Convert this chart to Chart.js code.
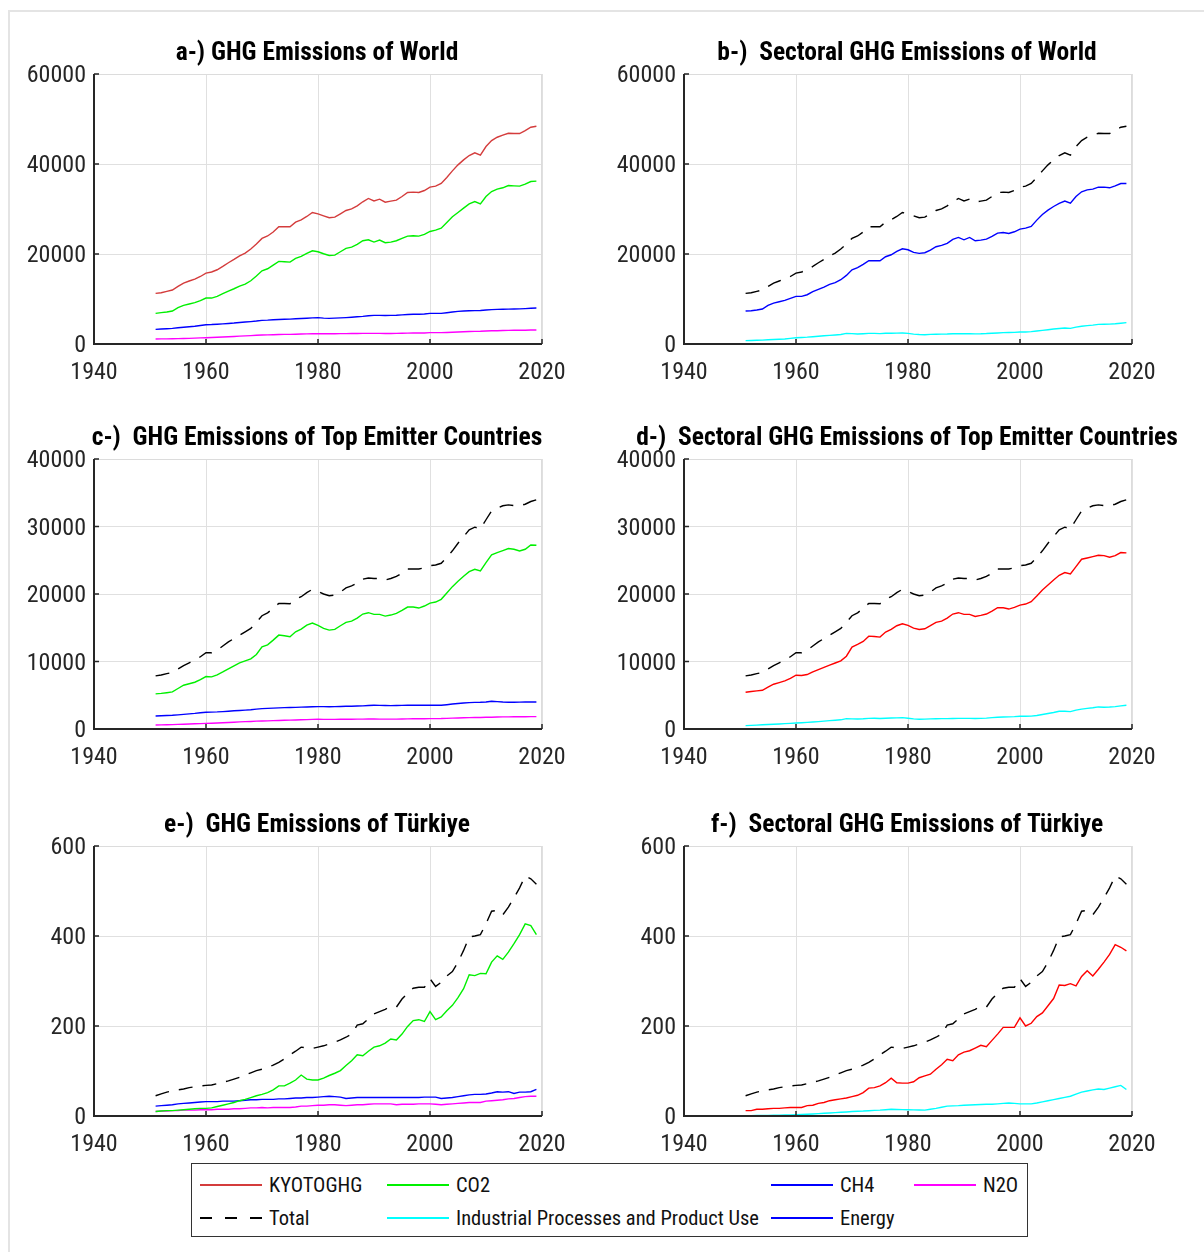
<!DOCTYPE html>
<html>
<head>
<meta charset="utf-8">
<title>GHG Emissions</title>
<script src="https://cdn.jsdelivr.net/npm/chart.js@4.4.0/dist/chart.umd.min.js"></script>
<style>
body { margin: 0; background: #fff; width: 1204px; height: 1252px; position: relative; overflow: hidden;
       font-family: 'Liberation Sans Narrow', 'Roboto Condensed', 'Arial Narrow', sans-serif; }
.frame { position: absolute; left: 8px; top: 10px; right: 0; bottom: 0; border-left: 2px solid #e4e4e4; border-top: 2px solid #e4e4e4; }
canvas { position: absolute; }
#legend { position: absolute; left: 191px; top: 1163px; width: 837px; height: 74px; box-sizing: border-box;
          border: 1px solid #333; background: #fff; }
.item { position: absolute; height: 26px; display: flex; align-items: center; font-size: 20.5px; color: #111; white-space: nowrap; }
.sample { width: 62px; height: 1.3px; margin-right: 7px; }
</style>
</head>
<body>
<div class="frame"></div>
<canvas id="a" width="600" height="380" style="left:0;top:20px"></canvas>
<canvas id="b" width="604" height="380" style="left:600px;top:20px"></canvas>
<canvas id="c" width="600" height="380" style="left:0;top:405px"></canvas>
<canvas id="d" width="604" height="380" style="left:600px;top:405px"></canvas>
<canvas id="e" width="600" height="380" style="left:0;top:792px"></canvas>
<canvas id="f" width="604" height="380" style="left:600px;top:792px"></canvas>
<div id="legend"></div>
<script>
var years = [1951, 1952, 1953, 1954, 1955, 1956, 1957, 1958, 1959, 1960,
    1961, 1962, 1963, 1964, 1965, 1966, 1967, 1968, 1969, 1970,
    1971, 1972, 1973, 1974, 1975, 1976, 1977, 1978, 1979, 1980,
    1981, 1982, 1983, 1984, 1985, 1986, 1987, 1988, 1989, 1990,
    1991, 1992, 1993, 1994, 1995, 1996, 1997, 1998, 1999, 2000,
    2001, 2002, 2003, 2004, 2005, 2006, 2007, 2008, 2009, 2010,
    2011, 2012, 2013, 2014, 2015, 2016, 2017, 2018, 2019];

var xTicks = [1940, 1960, 1980, 2000, 2020];

// World
var worldKyoto = [11250, 11400, 11700, 12000, 12800, 13540, 14000, 14430, 15000, 15760,
    16000, 16500, 17240, 18060, 18800, 19600, 20200, 21100, 22200, 23460,
    24000, 24900, 26050, 26050, 26050, 27080, 27600, 28340, 29230, 28930,
    28490, 28050, 28200, 28930, 29670, 30040, 30700, 31600, 32340, 31800,
    32190, 31520, 31750, 31970, 32780, 33670, 33740, 33670, 34110, 34850,
    35070, 35670, 37000, 38480, 39810, 40920, 41880, 42470, 41960, 43880,
    45210, 45950, 46400, 46840, 46770, 46770, 47430, 48170, 48400];
var worldTotal = worldKyoto;
var worldCO2 = [6800, 6960, 7100, 7330, 8070, 8580, 8880, 9180, 9620, 10210,
    10210, 10580, 11170, 11770, 12280, 12880, 13320, 14060, 15100, 16280,
    16720, 17540, 18350, 18280, 18200, 19020, 19460, 20130, 20720, 20500,
    20050, 19680, 19760, 20500, 21240, 21530, 22130, 22940, 23160, 22640,
    23090, 22500, 22640, 22940, 23460, 23980, 24050, 23980, 24350, 25010,
    25310, 25750, 27010, 28270, 29230, 30190, 31150, 31670, 31150, 32780,
    33890, 34410, 34710, 35220, 35150, 35080, 35520, 36110, 36190];
var worldCH4 = [3260, 3330, 3400, 3480, 3600, 3720, 3830, 3930, 4100, 4290,
    4330, 4400, 4480, 4570, 4660, 4780, 4880, 4980, 5100, 5250,
    5300, 5380, 5460, 5500, 5530, 5600, 5660, 5720, 5800, 5850,
    5760, 5700, 5740, 5800, 5870, 5950, 6050, 6150, 6280, 6360,
    6360, 6350, 6370, 6400, 6480, 6560, 6600, 6620, 6680, 6800,
    6800, 6800, 6950, 7100, 7250, 7320, 7380, 7420, 7450, 7550,
    7650, 7700, 7720, 7750, 7770, 7800, 7860, 7930, 7990];
var worldN2O = [1110, 1130, 1150, 1170, 1200, 1230, 1260, 1300, 1350, 1400,
    1440, 1500, 1560, 1620, 1680, 1740, 1800, 1860, 1930, 2000,
    2030, 2070, 2110, 2130, 2150, 2180, 2210, 2240, 2280, 2290,
    2280, 2270, 2280, 2300, 2310, 2320, 2330, 2350, 2370, 2370,
    2360, 2340, 2340, 2360, 2390, 2420, 2440, 2440, 2460, 2520,
    2520, 2530, 2570, 2620, 2680, 2720, 2770, 2810, 2830, 2890,
    2930, 2960, 2990, 3020, 3040, 3050, 3070, 3100, 3110];
var worldEnergy = [7330, 7400, 7550, 7770, 8580, 9100, 9400, 9690, 10140, 10580,
    10580, 10950, 11620, 12140, 12650, 13250, 13620, 14280, 15240, 16500,
    16950, 17690, 18500, 18500, 18500, 19390, 19830, 20570, 21160, 20940,
    20350, 20130, 20280, 20870, 21610, 21900, 22350, 23240, 23680, 23160,
    23680, 22940, 23090, 23310, 23900, 24640, 24790, 24570, 24940, 25530,
    25750, 26120, 27530, 28790, 29750, 30560, 31230, 31750, 31300, 32780,
    33820, 34260, 34410, 34850, 34850, 34710, 35150, 35670, 35670];
var worldIPPU = [740, 780, 820, 860, 930, 1000, 1060, 1120, 1260, 1400,
    1450, 1520, 1620, 1720, 1820, 1920, 2010, 2120, 2370, 2300,
    2220, 2280, 2350, 2370, 2300, 2380, 2400, 2420, 2440, 2350,
    2200, 2100, 2070, 2150, 2180, 2200, 2220, 2270, 2300, 2290,
    2280, 2260, 2270, 2320, 2400, 2460, 2520, 2550, 2580, 2660,
    2680, 2740, 2880, 3030, 3180, 3320, 3450, 3550, 3480, 3750,
    3950, 4080, 4200, 4370, 4400, 4420, 4500, 4620, 4740];

// Top emitter countries
var topTotal = [7870, 8000, 8200, 8370, 8900, 9400, 9800, 10200, 10700, 11290,
    11300, 11680, 12300, 12900, 13400, 13900, 14400, 14900, 15800, 16780,
    17200, 17900, 18610, 18600, 18560, 19200, 19600, 20200, 20690, 20400,
    20000, 19750, 19850, 20300, 20900, 21200, 21600, 22200, 22370, 22300,
    22300, 22080, 22300, 22600, 23100, 23710, 23700, 23700, 23900, 24210,
    24300, 24550, 25400, 26400, 27520, 28500, 29500, 29900, 29650, 31000,
    32320, 32700, 33070, 33200, 33100, 33070, 33300, 33700, 33960];
var topCO2 = [5200, 5280, 5380, 5490, 6000, 6480, 6700, 6930, 7300, 7770,
    7720, 8020, 8450, 8910, 9350, 9800, 10100, 10400, 11040, 12180,
    12470, 13170, 13910, 13810, 13660, 14400, 14800, 15390, 15690, 15350,
    14900, 14650, 14750, 15300, 15790, 15990, 16430, 17030, 17230, 16980,
    16980, 16730, 16880, 17130, 17570, 18070, 18070, 17920, 18220, 18660,
    18810, 19210, 20150, 21090, 21880, 22620, 23310, 23660, 23410, 24650,
    25790, 26140, 26430, 26730, 26630, 26380, 26630, 27270, 27220];
var topCH4 = [1930, 1960, 2000, 2030, 2100, 2170, 2240, 2310, 2400, 2480,
    2500, 2530, 2580, 2640, 2700, 2750, 2800, 2860, 2940, 3020,
    3050, 3090, 3130, 3160, 3180, 3210, 3240, 3270, 3300, 3320,
    3310, 3300, 3320, 3340, 3360, 3380, 3400, 3430, 3480, 3510,
    3500, 3480, 3470, 3480, 3500, 3520, 3520, 3510, 3510, 3510,
    3510, 3510, 3600, 3700, 3780, 3860, 3900, 3940, 3960, 4010,
    4110, 4060, 4000, 3960, 3970, 3980, 3990, 4000, 4010];
var topN2O = [590, 610, 630, 650, 680, 710, 740, 770, 800, 840,
    860, 890, 930, 970, 1010, 1050, 1090, 1120, 1160, 1190,
    1210, 1240, 1270, 1290, 1310, 1340, 1360, 1390, 1420, 1440,
    1430, 1420, 1430, 1440, 1450, 1450, 1460, 1470, 1480, 1480,
    1470, 1460, 1460, 1470, 1480, 1500, 1510, 1510, 1510, 1530,
    1540, 1550, 1580, 1610, 1640, 1660, 1680, 1700, 1700, 1730,
    1750, 1770, 1790, 1800, 1810, 1810, 1820, 1830, 1830];
var topEnergy = [5440, 5550, 5650, 5740, 6200, 6630, 6880, 7130, 7500, 7970,
    7920, 8070, 8450, 8810, 9130, 9450, 9780, 10100, 10790, 12130,
    12520, 12970, 13760, 13710, 13610, 14360, 14750, 15300, 15590, 15350,
    14950, 14750, 14850, 15300, 15790, 15990, 16430, 17030, 17230, 16980,
    16980, 16680, 16830, 17030, 17470, 17970, 17970, 17770, 18020, 18360,
    18510, 18860, 19700, 20590, 21330, 22080, 22770, 23170, 22970, 24060,
    25150, 25340, 25540, 25740, 25690, 25440, 25690, 26140, 26090];
var topIPPU = [500, 540, 580, 620, 670, 710, 750, 800, 840, 890,
    930, 980, 1040, 1100, 1170, 1240, 1300, 1360, 1530, 1500,
    1480, 1520, 1580, 1600, 1550, 1600, 1620, 1650, 1680, 1600,
    1500, 1440, 1460, 1500, 1520, 1530, 1540, 1560, 1580, 1580,
    1570, 1560, 1570, 1610, 1680, 1740, 1780, 1800, 1830, 1880,
    1880, 1900, 2000, 2150, 2300, 2450, 2620, 2640, 2570, 2800,
    2950, 3050, 3150, 3270, 3230, 3250, 3320, 3420, 3510];

// Türkiye
var turTotal = [45, 49, 53, 56, 58, 60, 63, 65, 67, 68,
    69, 72, 75, 78, 82, 86, 91, 96, 101, 104,
    108, 113, 119, 127, 136, 144, 153, 151, 150, 153,
    156, 160, 164, 169, 175, 182, 202, 205, 216, 227,
    232, 237, 243, 242, 260, 273, 284, 286, 286, 305,
    288, 297, 311, 321, 342, 368, 398, 400, 403, 427,
    455, 457, 447, 464, 485, 507, 533, 527, 515];
var turCO2 = [10, 11, 12, 12, 13, 14, 15, 16, 17, 17,
    18, 21, 24, 27, 30, 34, 37, 41, 45, 48,
    52, 58, 67, 67, 73, 80, 91, 82, 80, 80,
    84, 90, 95, 101, 112, 123, 136, 134, 144, 153,
    156, 162, 171, 169, 182, 199, 212, 214, 210, 232,
    214, 220, 234, 246, 263, 283, 314, 312, 317, 316,
    342, 356, 348, 364, 383, 403, 427, 423, 403];
var turCH4 = [22, 23, 24, 25, 27, 28, 29, 30, 31, 32,
    32, 32, 33, 33, 33, 34, 35, 36, 36, 37,
    37, 37, 38, 38, 39, 40, 40, 41, 41, 42,
    43, 44, 43, 42, 39, 40, 41, 41, 41, 41,
    41, 41, 41, 41, 41, 41, 41, 41, 42, 42,
    42, 39, 40, 41, 43, 45, 47, 48, 48, 49,
    51, 54, 53, 54, 50, 53, 53, 54, 59];
var turN2O = [10, 11, 11, 12, 12, 13, 13, 13, 14, 14,
    14, 15, 15, 15, 16, 16, 17, 18, 18, 19,
    18, 19, 19, 19, 19, 20, 22, 22, 23, 24,
    24, 25, 25, 24, 23, 24, 25, 25, 26, 27,
    27, 27, 27, 25, 26, 26, 26, 27, 27, 27,
    26, 25, 26, 27, 28, 29, 30, 30, 30, 33,
    34, 35, 36, 38, 39, 41, 43, 44, 44];
var turEnergy = [12, 12, 15, 15, 16, 17, 17, 18, 19, 19,
    19, 23, 24, 28, 30, 34, 36, 38, 40, 43,
    46, 52, 62, 63, 67, 74, 84, 74, 73, 73,
    76, 85, 89, 93, 104, 114, 126, 123, 136, 142,
    145, 151, 157, 154, 168, 182, 197, 197, 197, 218,
    200, 206, 221, 229, 245, 261, 291, 290, 294, 289,
    310, 323, 311, 326, 342, 359, 381, 375, 367];
var turIPPU = [0.5, 0.7, 1, 1.2, 1.5, 1.8, 2, 2.3, 2.6, 3,
    3.5, 4, 4.5, 5.2, 6, 6.7, 7.5, 8.2, 9, 10,
    10.5, 11, 11.8, 12.5, 13, 14, 15, 14.5, 14.2, 14,
    13.7, 13.4, 13, 15, 17, 19.5, 22, 22.5, 23, 24,
    24.5, 25, 25.5, 26, 26, 27, 28, 29, 28, 27,
    27, 27, 29, 31.5, 34, 36.5, 39, 41.5, 44, 48.5,
    53, 55.5, 58, 60, 59, 62, 65, 68, 59];

var legendLabels = ['KYOTOGHG', 'CO2', 'CH4', 'N2O', 'Total', 'Industrial Processes and Product Use', 'Energy'];

var FONT = "'Liberation Sans Narrow', 'Roboto Condensed', 'Arial Narrow', sans-serif";
var colors = {
    kyoto: '#d43c3c', co2: '#00f000', ch4: '#0000ff', n2o: '#ff00ff',
    total: '#000000', ippu: '#00ffff', energy: '#0000ff', energyRed: '#ff0000'
};

Chart.defaults.font.family = FONT;
Chart.defaults.color = '#262626';

function points(values) {
    return values.map(function (v, i) { return { x: years[i], y: v }; });
}

function line(label, values, color, dashed) {
    return {
        label: label,
        data: points(values),
        borderColor: color,
        borderWidth: 1.4,
        borderDash: dashed ? [14, 10] : [],
        pointRadius: 0,
        tension: 0,
        fill: false
    };
}

// grey box, dark left/bottom axes, inward ticks and the panel title
var axisDeco = {
    id: 'axisDeco',
    afterDraw: function (chart) {
        var ctx = chart.ctx, a = chart.chartArea;
        var xs = chart.scales.x, ys = chart.scales.y;
        ctx.save();
        ctx.strokeStyle = '#dcdcdc';
        ctx.lineWidth = 1;
        ctx.beginPath();
        ctx.moveTo(a.left, a.top + 0.5); ctx.lineTo(a.right, a.top + 0.5);
        ctx.moveTo(a.right - 0.5, a.top); ctx.lineTo(a.right - 0.5, a.bottom);
        ctx.stroke();

        ctx.strokeStyle = '#262626';
        ctx.lineWidth = 1.5;
        ctx.beginPath();
        ys.ticks.forEach(function (t) {
            var y = ys.getPixelForValue(t.value);
            ctx.moveTo(a.left, y); ctx.lineTo(a.left + 5, y);
        });
        xs.ticks.forEach(function (t) {
            var x = xs.getPixelForValue(t.value);
            ctx.moveTo(x, a.bottom); ctx.lineTo(x, a.bottom - 5);
        });
        ctx.stroke();

        ctx.lineWidth = 2;
        ctx.beginPath();
        ctx.moveTo(a.left, a.top); ctx.lineTo(a.left, a.bottom); ctx.lineTo(a.right, a.bottom);
        ctx.stroke();

        ctx.fillStyle = '#000';
        ctx.font = 'bold 25.5px ' + FONT;
        ctx.textAlign = 'center';
        ctx.textBaseline = 'middle';
        ctx.fillText(chart.options.plugins.axisDeco.title, (a.left + a.right) / 2 - 1, a.top - 20);
        ctx.restore();
    }
};

function makePanel(id, title, yMax, yStep, datasets, padLeft, padRight) {
    return new Chart(document.getElementById(id).getContext('2d'), {
        type: 'line',
        data: { datasets: datasets },
        plugins: [axisDeco],
        options: {
            responsive: false,
            animation: false,
            layout: { padding: { left: padLeft, right: padRight, top: 54, bottom: 16 } },
            plugins: {
                legend: { display: false },
                tooltip: { enabled: false },
                axisDeco: { title: title }
            },
            scales: {
                x: {
                    type: 'linear', min: xTicks[0], max: xTicks[xTicks.length - 1],
                    afterBuildTicks: function (s) { s.ticks = xTicks.map(function (v) { return { value: v }; }); },
                    afterFit: function (s) { s.height = 40; },
                    grid: { color: '#e0e0e0', lineWidth: 1, drawTicks: false },
                    border: { display: false },
                    ticks: { font: { size: 24 }, padding: 15, maxRotation: 0, callback: function (v) { return String(v); } }
                },
                y: {
                    min: 0, max: yMax,
                    afterFit: function (s) { s.width = 80; },
                    grid: { color: '#e0e0e0', lineWidth: 1, drawTicks: false },
                    border: { display: false },
                    ticks: { stepSize: yStep, font: { size: 24 }, padding: 8, labelOffset: 2, callback: function (v) { return String(v); } }
                }
            }
        }
    });
}

var chartA = makePanel('a', 'a-) GHG Emissions of World', 60000, 20000, [
    line('KYOTOGHG', worldKyoto, colors.kyoto),
    line('CO2', worldCO2, colors.co2),
    line('CH4', worldCH4, colors.ch4),
    line('N2O', worldN2O, colors.n2o)
], 14, 58);

var chartB = makePanel('b', 'b-)  Sectoral GHG Emissions of World', 60000, 20000, [
    line('Total', worldTotal, colors.total, true),
    line('Industrial Processes and Product Use', worldIPPU, colors.ippu),
    line('Energy', worldEnergy, colors.energy)
], 4, 72);

var chartC = makePanel('c', 'c-)  GHG Emissions of Top Emitter Countries', 40000, 10000, [
    line('Total', topTotal, colors.total, true),
    line('CO2', topCO2, colors.co2),
    line('CH4', topCH4, colors.ch4),
    line('N2O', topN2O, colors.n2o)
], 14, 58);

var chartD = makePanel('d', 'd-)  Sectoral GHG Emissions of Top Emitter Countries', 40000, 10000, [
    line('Total', topTotal, colors.total, true),
    line('Industrial Processes and Product Use', topIPPU, colors.ippu),
    line('Energy', topEnergy, colors.energyRed)
], 4, 72);

var chartE = makePanel('e', 'e-)  GHG Emissions of Türkiye', 600, 200, [
    line('Total', turTotal, colors.total, true),
    line('CO2', turCO2, colors.co2),
    line('CH4', turCH4, colors.ch4),
    line('N2O', turN2O, colors.n2o)
], 14, 58);

var chartF = makePanel('f', 'f-)  Sectoral GHG Emissions of Türkiye', 600, 200, [
    line('Total', turTotal, colors.total, true),
    line('Industrial Processes and Product Use', turIPPU, colors.ippu),
    line('Energy', turEnergy, colors.energyRed)
], 4, 72);

// shared legend box
var legendColors = [colors.kyoto, colors.co2, colors.ch4, colors.n2o, colors.total, colors.ippu, colors.energy];
var legendPos = [[8, 8], [195, 8], [579, 8], [722, 8], [8, 41], [195, 41], [579, 41]];
var legendBox = document.getElementById('legend');
legendLabels.forEach(function (label, i) {
    var item = document.createElement('div');
    item.className = 'item';
    item.style.left = legendPos[i][0] + 'px';
    item.style.top = legendPos[i][1] + 'px';
    var sample = document.createElement('span');
    sample.className = 'sample';
    if (label === 'Total') {
        sample.style.background = 'repeating-linear-gradient(to right, #000 0 12px, transparent 12px 25px)';
    } else {
        sample.style.background = legendColors[i];
    }
    var text = document.createElement('span');
    text.textContent = label;
    item.appendChild(sample);
    item.appendChild(text);
    legendBox.appendChild(item);
});
</script>
</body>
</html>
